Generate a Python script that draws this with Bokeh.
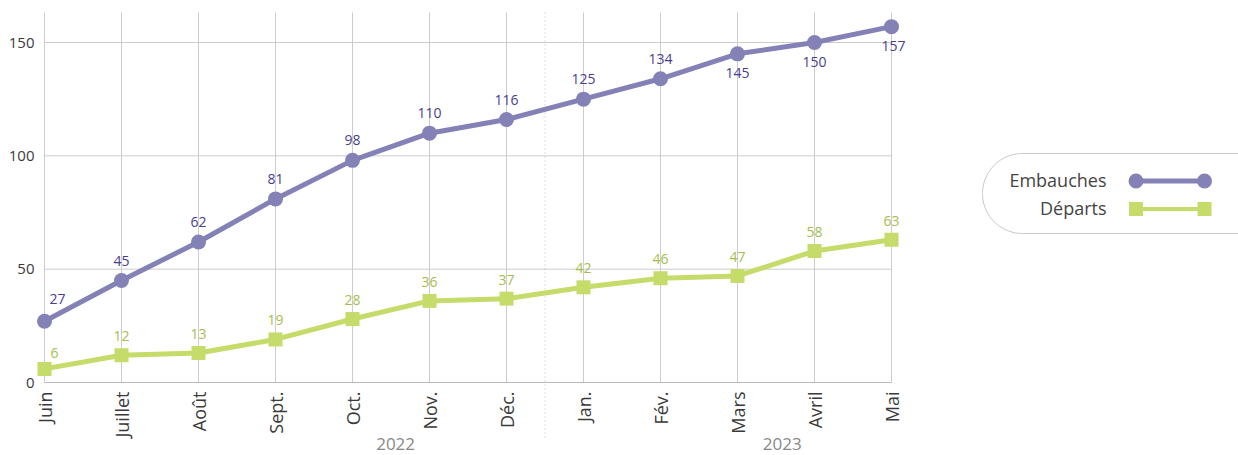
import numpy as np
from bokeh.plotting import figure
from bokeh.models import Range1d, ColumnDataSource
from bokeh.layouts import row
from bokeh.embed import file_html
from bokeh.resources import INLINE
from bokeh.core.properties import value

# ---- data ----
months = ["Juin", "Juillet", "Août", "Sept.", "Oct.", "Nov.", "Déc.",
          "Jan.", "Fév.", "Mars", "Avril", "Mai"]
embauches = [27, 45, 62, 81, 98, 110, 116, 125, 134, 145, 150, 157]
departs = [6, 12, 13, 19, 28, 36, 37, 42, 46, 47, 58, 63]
series_names = ["Embauches", "Départs"]
years = ["2022", "2023"]
y_ticks = [0, 50, 100, 150]

# ---- styles ----
PURPLE = "#8481B6"
PURPLE_TXT = "#4A3D8F"
GREEN = "#C5DB6A"
GREEN_TXT = "#A5BE4E"
GRID = "#CCCCCC"
AXIS_TXT = "#3A3A3A"
FONT = "Open Sans"

# geometry (pixels)
SX = 77.0            # px per category
SY = 340.0 / 150.0   # px per unit
X0_PX = 44.0         # pixel of first category
Y0_PX = 382.0        # pixel of value 0
TOP_PX = 12.0        # top of the grid
H = 455
W_MAIN = 950
W_TOTAL = 1238

def px_to_y(py):
    return (Y0_PX - py) / SY

x = list(range(len(months)))
p = figure(width=W_MAIN, height=H,
           x_range=Range1d(-X0_PX / SX, (W_MAIN - X0_PX) / SX),
           y_range=Range1d(px_to_y(H), px_to_y(0)),
           output_backend="svg", toolbar_location=None, min_border=0)
p.outline_line_color = None
p.axis.visible = False
p.grid.visible = False

y_top = px_to_y(TOP_PX)

# vertical grid lines at each category
p.segment(x0=x, x1=x, y0=[0] * len(x), y1=[y_top] * len(x),
          line_color=GRID, line_width=1)
# horizontal grid lines + baseline, spanning first to last category
p.segment(x0=[x[0]] * len(y_ticks), x1=[x[-1]] * len(y_ticks),
          y0=y_ticks, y1=y_ticks,
          line_color=[("#BBBBBB" if t == 0 else GRID) for t in y_ticks],
          line_width=1)

# y tick labels
p.text(x=[-10.0 / SX] * len(y_ticks), y=y_ticks, text=[str(t) for t in y_ticks],
       text_align="right", text_baseline="middle",
       text_font=value(FONT), text_font_size="15px", text_color=AXIS_TXT)

# x tick labels (rotated, reading upward)
p.text(x=x, y=[px_to_y(391)] * len(x), text=months, angle=np.pi / 2,
       text_align="right", text_baseline="middle",
       text_font=value(FONT), text_font_size="18px", text_color=AXIS_TXT)

# year separator (dotted), between Déc. and Jan.
sep_x = 6.5
p.segment(x0=[sep_x], x1=[sep_x], y0=[y_top], y1=[px_to_y(440)],
          line_color="#BBBBBB", line_width=1, line_dash="1 3")

# year labels
p.text(x=[4.56, 9.58], y=[px_to_y(443)] * 2, text=years,
       text_align="center", text_baseline="middle",
       text_font=value(FONT), text_font_size="17px", text_color="#888888")

# series
p.line(x, departs, line_color=GREEN, line_width=5)
p.scatter(x, departs, marker="square", size=14, fill_color=GREEN, line_color=None)
p.line(x, embauches, line_color=PURPLE, line_width=5)
p.scatter(x, embauches, marker="circle", size=15, fill_color=PURPLE, line_color=None)

# data labels
n = len(months)
e_dx = [0] * n
e_dy = [-20] * n
e_dx[0], e_dy[0] = 13, -22
for i in range(n - 3, n):
    e_dy[i] = 19
e_dx[-1] = 2
src_e = ColumnDataSource(dict(x=x, y=embauches, t=[str(v) for v in embauches], dx=e_dx, dy=e_dy))
p.text(x="x", y="y", text="t", x_offset="dx", y_offset="dy", source=src_e,
       text_align="center", text_baseline="middle",
       text_font=value(FONT), text_font_size="14px", text_color=PURPLE_TXT)

d_dx = [0] * n
d_dy = [-19] * n
d_dx[0], d_dy[0] = 10, -16
src_d = ColumnDataSource(dict(x=x, y=departs, t=[str(v) for v in departs], dx=d_dx, dy=d_dy))
p.text(x="x", y="y", text="t", x_offset="dx", y_offset="dy", source=src_d,
       text_align="center", text_baseline="middle",
       text_font=value(FONT), text_font_size="14px", text_color=GREEN_TXT)

# ---- legend figure (absolute pixel coordinates) ----
LW = W_TOTAL - W_MAIN
lg = figure(width=LW, height=H, x_range=Range1d(W_MAIN, W_TOTAL),
            y_range=Range1d(H, 0),
            output_backend="svg", toolbar_location=None, min_border=0)
lg.axis.visible = False
lg.grid.visible = False
lg.outline_line_color = None

cx, cy, r = 1022.0, 193.0, 40.0
ang = np.linspace(np.pi / 2, 3 * np.pi / 2, 60)
pxs = list(cx + r * np.cos(ang)) + [W_TOTAL + 60, W_TOTAL + 60]
pys = list(cy - r * np.sin(ang)) + [cy + r, cy - r]
lg.patch(pxs + [pxs[0]], pys + [pys[0]], fill_color="white", line_color="#C8C8C8", line_width=1)

leg_y = [179, 207]
leg_colors = [PURPLE, GREEN]
leg_markers = ["circle", "square"]
leg_sizes = [15, 14]
leg_widths = [5, 4]
lg.text(x=[1106] * 2, y=leg_y, text=series_names, text_align="right",
        text_baseline="middle", text_font=value(FONT), text_font_size="18px",
        text_color="#444444")
for yy, c, m, s, w in zip(leg_y, leg_colors, leg_markers, leg_sizes, leg_widths):
    lg.line([1135.5, 1204], [yy + 1.5, yy + 1.5], line_color=c, line_width=w)
    lg.scatter([1135.5, 1204], [yy + 1.5, yy + 1.5], marker=m, size=s, fill_color=c, line_color=None)

layout = row(p, lg)
open("out.html", "w").write(file_html(layout, INLINE))
